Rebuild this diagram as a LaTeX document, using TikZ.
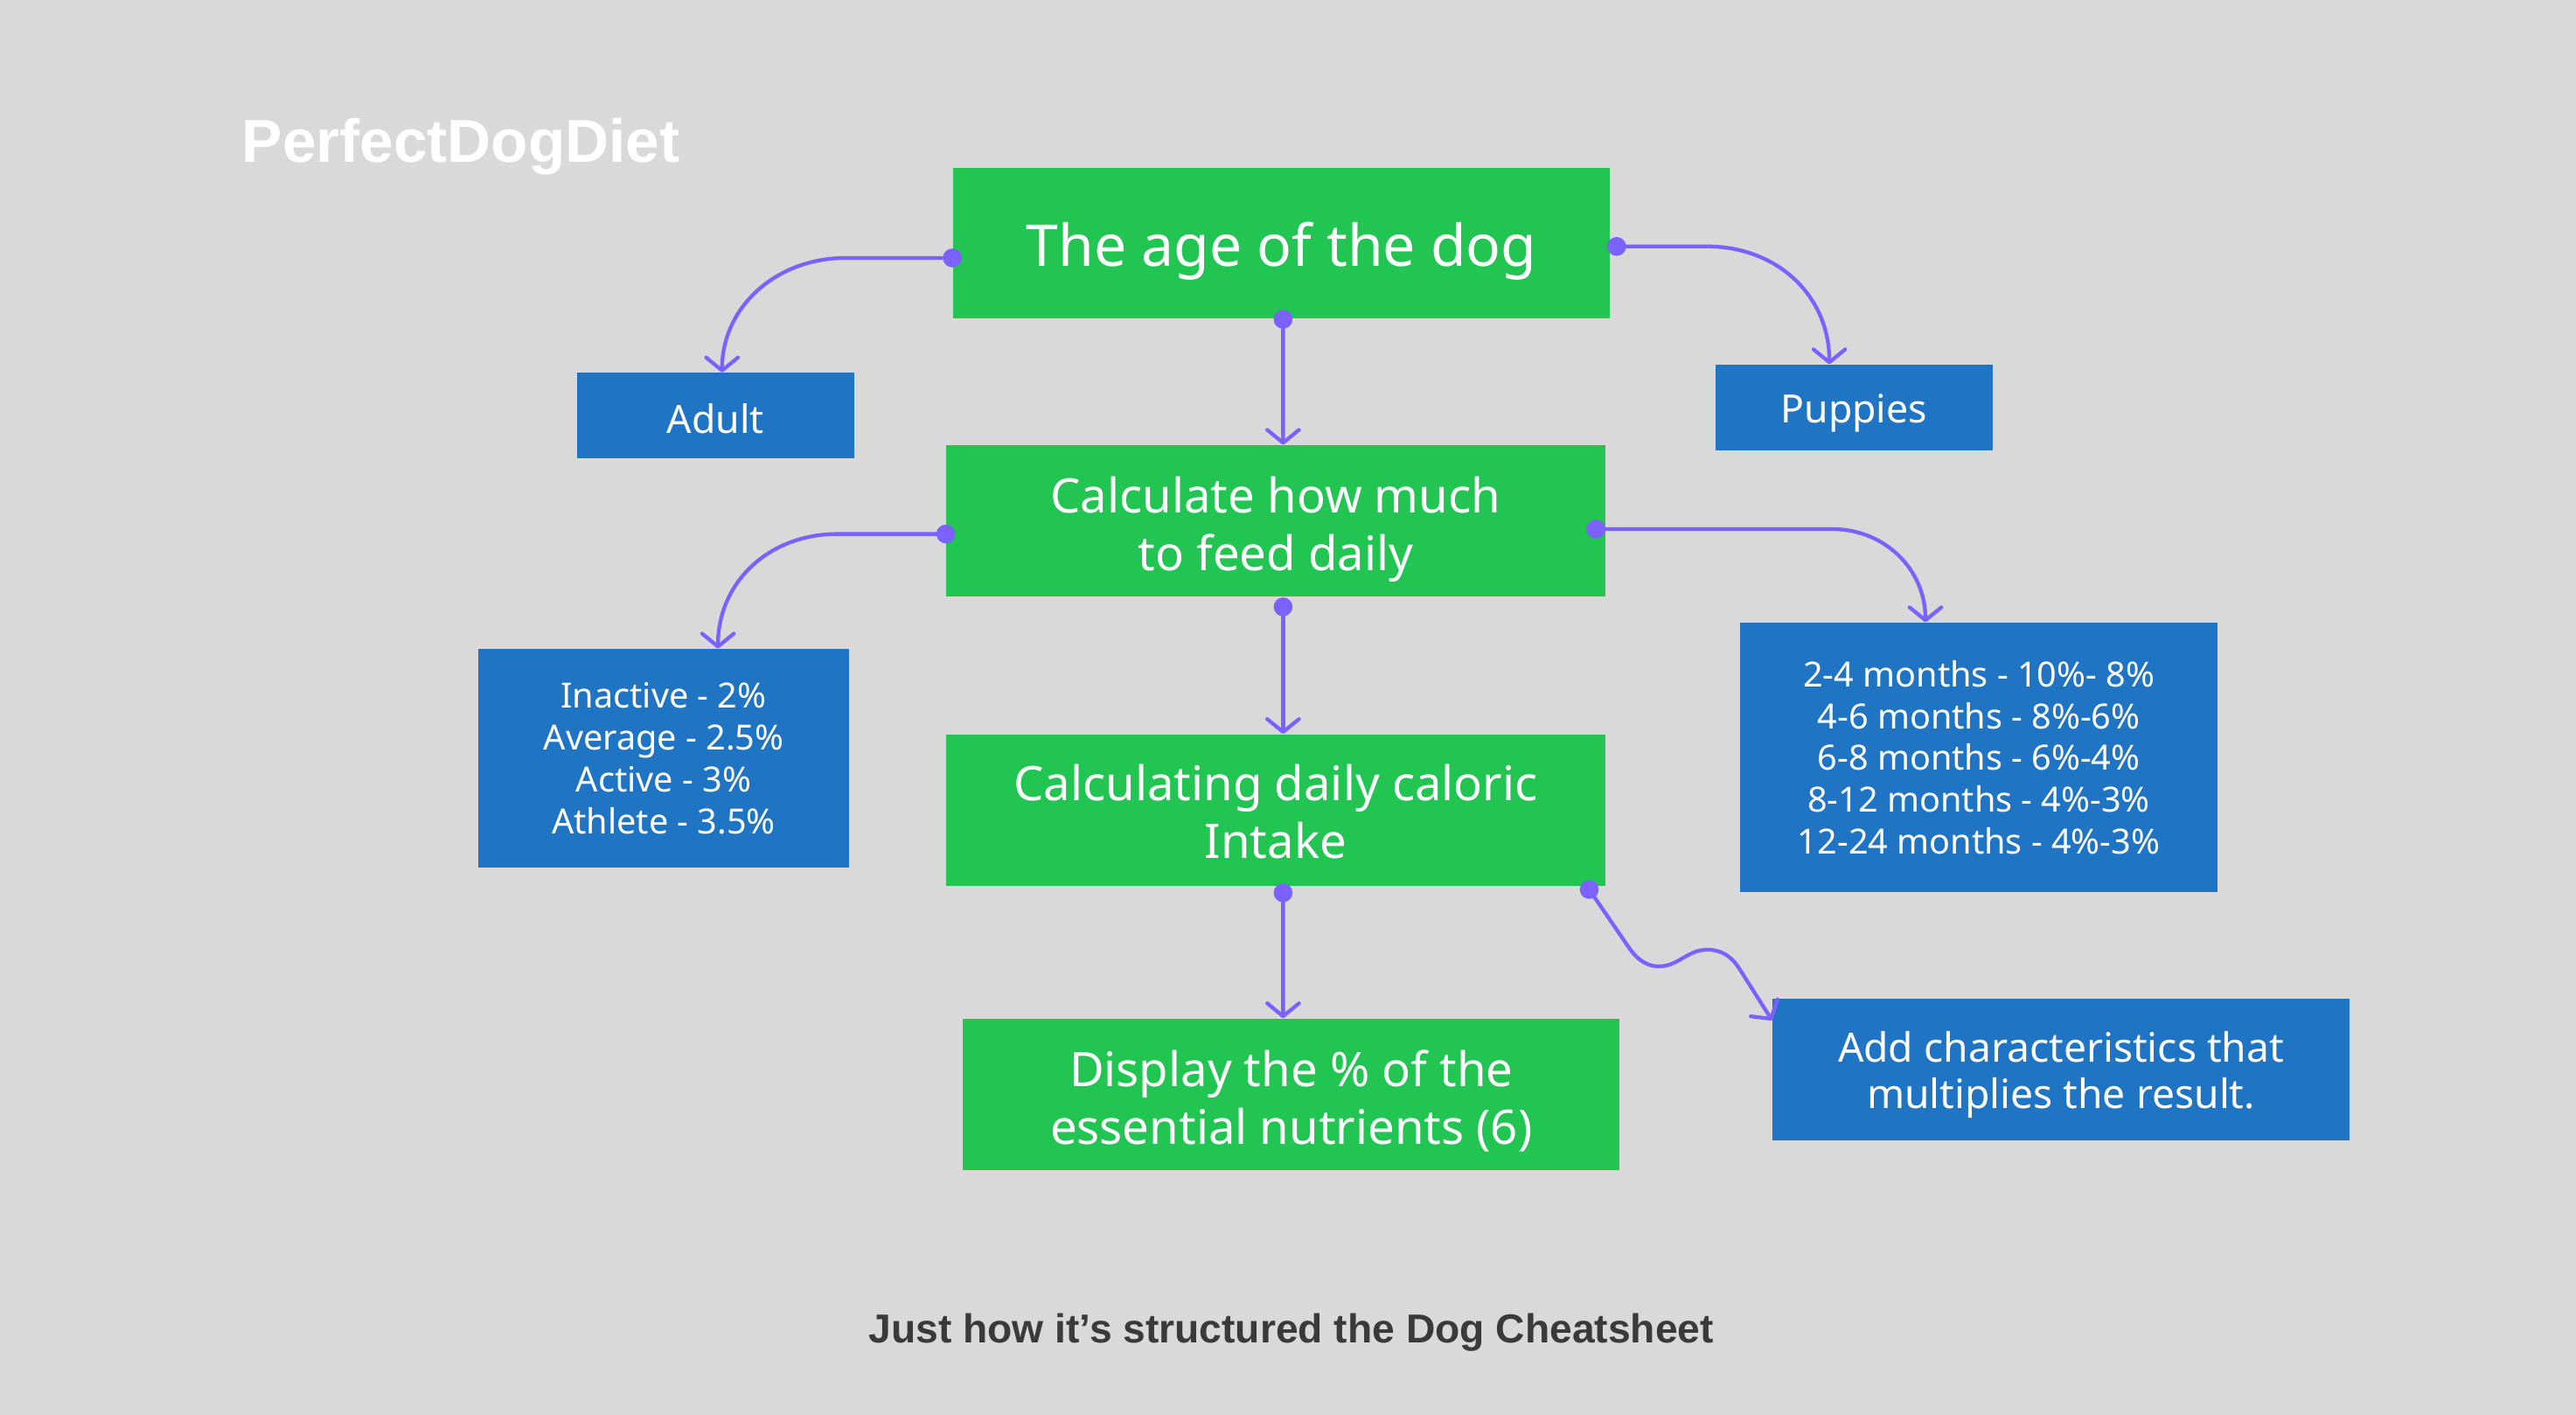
\documentclass[tikz,border=0pt]{standalone}
\usepackage{fontspec}
\setmainfont{Noto Sans}
\newfontfamily\headfont{Liberation Sans}
\usetikzlibrary{arrows.meta, positioning, calc}
\definecolor{bggray}{HTML}{D9D9D9}
\definecolor{dietgreen}{HTML}{22C452}
\definecolor{dietblue}{HTML}{2074C4}
\definecolor{linkpurple}{HTML}{7B61FF}
\definecolor{captiongray}{HTML}{3A3A3A}
% taller first line, so the text sits a little lower in its box
\newcommand{\droptext}[1]{\rule{0pt}{#1}}

\begin{document}
\begin{tikzpicture}[x=0.02cm, y=-0.02cm,
  gbox/.style={fill=dietgreen, text=white, align=center, inner sep=0pt,
               minimum width=8cm, minimum height=1.84cm, font=\fontsize{16.5}{20}\selectfont},
  bbox/.style={fill=dietblue, text=white, align=center, inner sep=0pt},
  link/.style={draw=linkpurple, line width=1.3pt,
               {Circle[length=6.5pt]}-{Straight Barb[length=4.5pt, width=11pt, round]}}
]
  \fill[bggray] (0,0) rectangle (1568,861);
  \useasboundingbox (0,0) rectangle (1568,861);

  \node[anchor=base west, inner sep=0pt, text=white, font=\headfont\bfseries\fontsize{21}{24}\selectfont] (brand) at (147,99) {PerfectDogDiet};

  \node[gbox, font=\fontsize{20}{24}\selectfont] (age) at (780,148) {\droptext{21pt}The age of the dog};
  \node[bbox, minimum width=3.38cm, minimum height=1.04cm, font=\fontsize{13.5}{16}\selectfont] (adult) at (435.5,253) {\droptext{12.6pt}Adult};
  \node[bbox, minimum width=3.38cm, minimum height=1.04cm, font=\fontsize{13.5}{16}\selectfont] (puppies) at (1128.5,248) {\droptext{14.1pt}Puppies};
  \node[gbox, minimum width=8.02cm] (feed) at (776.5,317) {\droptext{18.2pt}Calculate how much\\ to feed daily};
  \node[bbox, minimum width=4.52cm, minimum height=2.66cm, font=\fontsize{12}{14.5}\selectfont] (activity) at (404,461.5)
    {Inactive - 2\%\\Average - 2.5\%\\Active - 3\%\\Athlete - 3.5\%};
  \node[bbox, minimum width=5.82cm, minimum height=3.28cm, font=\fontsize{12}{14.5}\selectfont] (months) at (1204.5,461)
    {2-4 months - 10\%- 8\%\\4-6 months - 8\%-6\%\\6-8 months - 6\%-4\%\\8-12 months - 4\%-3\%\\12-24 months - 4\%-3\%};
  \node[gbox, minimum width=8.02cm] (caloric) at (776.5,493) {\droptext{13.6pt}Calculating daily caloric\\Intake};
  \node[gbox] (nutrients) at (786,666) {\droptext{17.1pt}Display the \% of the\\essential nutrients (6)};
  \node[bbox, minimum width=7.02cm, minimum height=1.72cm, font=\fontsize{14}{16}\selectfont] (extra) at (1254.5,651)
    {\droptext{14pt}Add characteristics that\\multiplies the result.};

  \node[anchor=base, inner sep=0pt, text=captiongray, font=\headfont\bfseries\fontsize{14}{17}\selectfont] (caption) at (786,817)
    {Just how it’s structured the Dog Cheatsheet};

  % age of the dog branches
  \draw[link] ($(age.west)+(5.7,9)$) -- ++(-70.7,0) .. controls +(-42,0) and +(0,-40) .. ($(adult.north)+(4,0)$);
  \draw[link] ($(age.east)+(-2,2)$) -- ++(61,0) .. controls +(42,0) and +(0,-42) .. ($(puppies.north)+(-15,0)$);
  \draw[link] ($(age.south)+(1,-5.7)$) -- ($(feed.north)+(4.5,0)$);

  % feeding branches
  \draw[link] ($(feed.west)+(5.7,8)$) -- ++(-71.7,0) .. controls +(-42,0) and +(0,-40) .. ($(activity.north)+(33,0)$);
  \draw[link] ($(feed.east)+(-11.7,5)$) -- ++(149.7,0) .. controls +(32,0) and +(0,-32) .. ($(months.north)+(-32.5,0)$);
  \draw[link] ($(feed.south)+(4.5,0.3)$) -- ($(caloric.north)+(4.5,0)$);

  % caloric intake
  \draw[link] ($(caloric.south)+(4.5,-1.7)$) -- ($(nutrients.north)+(-5,0)$);
  \draw[link] ($(caloric.south east)+(-13.2,-2.7)$) -- (991,576)
    .. controls (997,585) and (1004,589) .. (1012,588)
    .. controls (1022,587) and (1028,578) .. (1039,578)
    .. controls (1048,578) and (1054,582) .. (1059,590) -- ($(extra.west)+(0,-30)$);
\end{tikzpicture}
\end{document}
